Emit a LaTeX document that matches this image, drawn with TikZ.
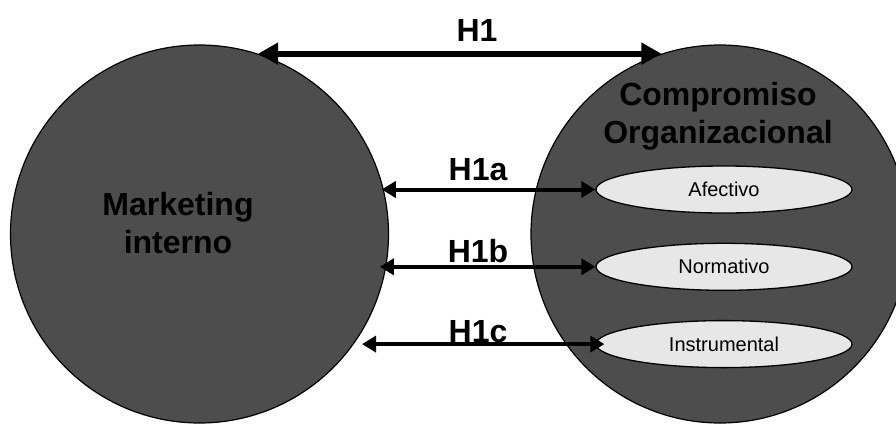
\documentclass[tikz,border=0pt]{standalone}
\usepackage{fontspec}
\setmainfont{Liberation Sans}
\usepackage{tikz}
\usepackage{xcolor}
\usetikzlibrary{shapes,
	arrows.meta,
	calc,
	positioning}

\definecolor{circgray}{RGB}{77,77,77}
\definecolor{elgray}{RGB}{231,231,231}

\tikzset{
	big/.style={font=\fontsize{32}{37.5}\selectfont\bfseries},
	small/.style={font=\fontsize{20}{24}\selectfont},
	circ/.style={circle, draw=black, line width=1.2pt, fill=circgray, minimum size=378pt, inner sep=0pt},
	dim/.style={ellipse, draw=black, line width=1.3pt, fill=elgray, minimum width=256pt, minimum height=47pt, inner sep=0pt, small},
	hyp/.style={line width=4pt, {Triangle[length=14pt,width=16pt]}-{Triangle[length=14pt,width=16pt]}},
	hypbig/.style={line width=6pt, {Triangle[length=20pt,width=21pt]}-{Triangle[length=20pt,width=21pt]}}
}

\begin{document}
\begin{tikzpicture}[x=1pt, y=-1pt]
	\useasboundingbox (0,0) rectangle (896,426);
	\clip (0,0) rectangle (896,426);

	\node[circ] (mi) at (199.5,234) {};
	\node[circ] (co) at (720,234) {};

	\node[big, align=center] (mit) at (178,223) {Marketing\\interno};
	\node[big, align=center] (cot) at (718,116.5) {Compromiso\\Organizacional};

	\node[dim] (af) at (724,189.5) {Afectivo};
	\node[dim, below=29pt of af] (no) {Normativo};
	\node[dim, below=29pt of no] (ins) {Instrumental};

	\draw[hypbig] (mi.72) -- (mi.72 -| co.108);
	\draw[hyp] (af.west -| mi.16) -- (af.west);
	\draw[hyp] (no.west -| mi.-18) -- (no.west);
	\draw[hyp, shorten >=-9pt] (ins.west -| mi.-31) -- (ins.west);

	\node[big, anchor=base] (h1) at (477,41.5) {H1};
	\node[big, anchor=base] (h1a) at (478,180.5) {H1a};
	\node[big, anchor=base] (h1b) at (478,262) {H1b};
	\node[big, anchor=base] (h1c) at (478,342.5) {H1c};
\end{tikzpicture}
\end{document}
